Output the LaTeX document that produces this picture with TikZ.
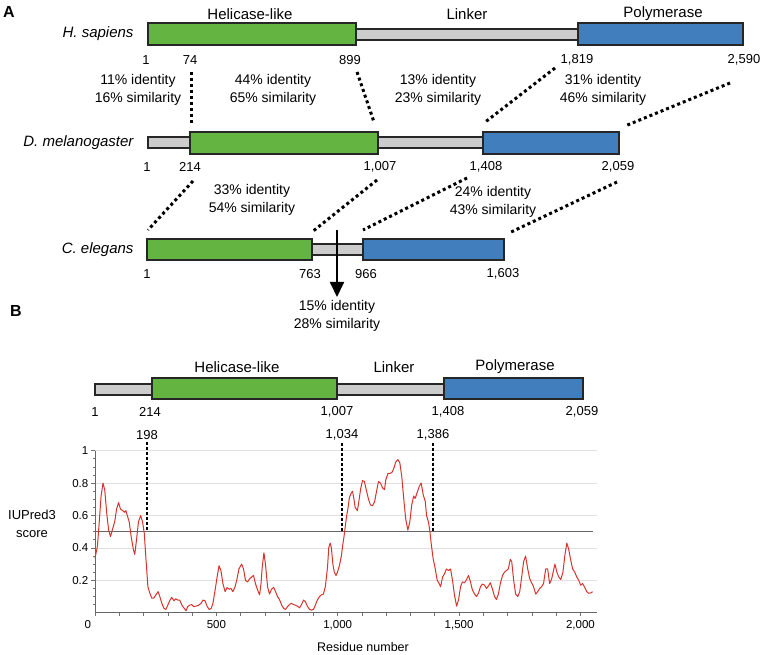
\documentclass[tikz,border=0pt]{standalone}
\usepackage{fontspec}
\setmainfont{Liberation Sans}
\usepackage{tikz}
\usepackage{xcolor}
\usetikzlibrary{arrows.meta}

\definecolor{helgreen}{RGB}{100,180,66}
\definecolor{polblue}{RGB}{64,126,190}
\definecolor{linkgray}{RGB}{204,204,204}
\definecolor{iured}{RGB}{214,52,44}

\tikzset{
  barbox/.style={draw=black!85, line width=1.3pt},
  helbox/.style={barbox, fill=helgreen},
  polbox/.style={barbox, fill=polblue},
  linkbar/.style={barbox, fill=linkgray},
  dlabel/.style={font=\fontsize{15}{18}\selectfont},
  species/.style={anchor=east, font=\itshape\fontsize{15}{18}\selectfont},
  num/.style={inner sep=2pt, font=\fontsize{13}{15}\selectfont},
  idtext/.style={align=center, font=\fontsize{14}{18}\selectfont},
  aligndash/.style={line width=3pt, dash pattern=on 3pt off 3pt},
  markdash/.style={line width=2pt, dash pattern=on 3pt off 2pt},
  panel/.style={font=\bfseries\fontsize{16}{16}\selectfont}
}

\begin{document}
\begin{tikzpicture}[x=1pt, y=-1pt]
  \useasboundingbox (0,0) rectangle (761,655);

  % panel A
  \node[panel] (pa) at (9,12) {A};
  \node[dlabel] (hel1) at (250,14) {Helicase-like};
  \node[dlabel] (lnk1) at (467,14) {Linker};
  \node[dlabel] (pol1) at (663,14) {Polymerase};

  % H. sapiens
  \node[species] (hs) at (137,34) {H. sapiens};
  \draw[linkbar] (356,29) rectangle (578,40);
  \draw[helbox] (148,23) rectangle (356,45);
  \draw[polbox] (578,23) rectangle (743,45);
  \node[num] (hs1) at (146,60) {1};
  \node[num] (hs74) at (190,60) {74};
  \node[num] (hs899) at (350,60) {899};
  \node[num] (hs1819) at (577,60) {1,819};
  \node[num] (hs2590) at (744,60) {2,590};

  % D. melanogaster
  \node[species] (dm) at (137,143) {D. melanogaster};
  \draw[linkbar] (148,137) rectangle (483,148);
  \draw[helbox] (190,132) rectangle (378,154);
  \draw[polbox] (483,132) rectangle (619,154);
  \node[num] (dm1) at (147,167) {1};
  \node[num] (dm214) at (190,167) {214};
  \node[num] (dm1007) at (380,167) {1,007};
  \node[num] (dm1408) at (486,167) {1,408};
  \node[num] (dm2059) at (618,167) {2,059};

  % C. elegans
  \node[species] (ce) at (137,250) {C. elegans};
  \draw[linkbar] (312,244) rectangle (363,255);
  \draw[helbox] (147,239) rectangle (312,260);
  \draw[polbox] (363,239) rectangle (504,260);
  \node[num] (ce1) at (147,274) {1};
  \node[num] (ce763) at (310,274) {763};
  \node[num] (ce966) at (366,274) {966};
  \node[num] (ce1603) at (503,274) {1,603};

  % identity between rows
  \node[idtext] (id1) at (138,90) {11\% identity\\16\% similarity};
  \node[idtext] (id2) at (273,90) {44\% identity\\65\% similarity};
  \node[idtext] (id3) at (438,90) {13\% identity\\23\% similarity};
  \node[idtext] (id4) at (603,90) {31\% identity\\46\% similarity};
  \node[idtext] (id5) at (252,200) {33\% identity\\54\% similarity};
  \node[idtext] (id6) at (493,202) {24\% identity\\43\% similarity};

  \coordinate (u1) at (191,72);  \coordinate (v1) at (191,125);
  \coordinate (u2) at (357,72);  \coordinate (v2) at (374,122);
  \coordinate (u3) at (555,68);  \coordinate (v3) at (484,123);
  \coordinate (u4) at (730,83);  \coordinate (v4) at (625,126);
  \coordinate (u5) at (193,181); \coordinate (v5) at (148,230);
  \coordinate (u6) at (377,180); \coordinate (v6) at (312,232);
  \coordinate (u7) at (467,178); \coordinate (v7) at (363,230);
  \coordinate (u8) at (617,182); \coordinate (v8) at (509,233);
  \foreach \i in {1,...,8}
    \draw[aligndash] (u\i) -- (v\i);

  % linker arrow
  \coordinate (arrtop) at (337,230);
  \node[idtext, anchor=north] (id7) at (337,297) {15\% identity\\28\% similarity};
  \draw[line width=1.8pt, -{Triangle[width=14pt,length=15pt]}] (arrtop) -- (id7.north);

  % panel B
  \node[panel] (pb) at (16,311) {B};
  \node[dlabel] (hel2) at (237,367) {Helicase-like};
  \node[dlabel] (lnk2) at (394,367) {Linker};
  \node[dlabel] (pol2) at (515,367) {Polymerase};
  \draw[linkbar] (95,384) rectangle (444,395);
  \draw[helbox] (152,378) rectangle (337,399);
  \draw[polbox] (444,378) rectangle (583,399);
  \node[num] (b1) at (95,412) {1};
  \node[num] (b214) at (150,412) {214};
  \node[num] (b1007) at (337,412) {1,007};
  \node[num] (b1408) at (448,412) {1,408};
  \node[num] (b2059) at (582,412) {2,059};

  % IUPred3 plot
  \node[align=center, font=\fontsize{13}{18}\selectfont] (ylab) at (32,524) {IUPred3\\score};
  \node[font=\fontsize{12.5}{14}\selectfont] (xlab) at (363,647) {Residue number};
  \begin{scope}[shift={(95,612.7)}, x=0.2427pt, y=162pt]
    \foreach \g in {0.2,0.4,0.6,0.8,1}
      \draw[black!12, line width=0.8pt] (0,\g) -- (2070,\g);
    \foreach \g in {0.05,0.1,...,1.0}
      \draw[black!55, line width=0.6pt] (0,\g) -- ++(-2.5pt,0pt);
    \foreach \g in {0.2,0.4,0.6,0.8,1}
      \draw[black!55, line width=0.6pt] (0,\g) -- ++(-4pt,0pt);
    \foreach \g/\t in {0.2/0.2,0.4/0.4,0.6/0.6,0.8/0.8,1/1}
      \node[anchor=east, inner sep=0pt, font=\fontsize{11.5}{13}\selectfont] (yt\t) at (-27,\g) {\t};
    \foreach \t in {0,100,...,2000}
      \draw[black!55, line width=0.6pt] (\t,0) -- ++(0pt,-3pt);
    \draw[black!60, line width=0.8pt] (0,0) -- (0,1);
    \draw[black!60, line width=0.8pt] (0,0) -- (2070,0);
    \node[font=\fontsize{11.5}{13}\selectfont] (x0) at (-30,-0.076) {0};
    \foreach \t/\s in {500/500,1000/{1,000},1500/{1,500},2000/{2,000}}
      \node[font=\fontsize{11.5}{13}\selectfont] (xt\t) at (\t,-0.076) {\s};
    \draw[black!60, line width=1.3pt] (0,0.5) -- (2052,0.5);
    \draw[iured, line width=1pt, line join=round] plot coordinates {
      (0,0.335) (10,0.41) (18,0.57) (25,0.72) (33,0.80) (40,0.76) (48,0.62) (56,0.51)
      (64,0.47) (73,0.52) (81,0.56) (89,0.64) (97,0.68) (105,0.64) (114,0.63) (122,0.62)
      (127,0.63) (133,0.60) (141,0.56) (149,0.47) (158,0.39) (164,0.36) (171,0.45)
      (179,0.56) (188,0.60) (196,0.56) (203,0.49) (210,0.33) (218,0.16) (226,0.12)
      (234,0.09) (242,0.09) (251,0.11) (260,0.13) (267,0.10) (275,0.06) (284,0.027)
      (292,0.02) (300,0.047) (308,0.074) (316,0.095) (325,0.074) (333,0.086) (341,0.078)
      (349,0.078) (358,0.047) (366,0.03) (375,0.012) (382,0.037) (390,0.047) (399,0.05)
      (407,0.037) (415,0.04) (426,0.045) (437,0.058) (445,0.078) (453,0.074) (462,0.04)
      (470,0.02) (479,0.027) (486,0.058) (495,0.14) (503,0.22) (511,0.29) (519,0.26)
      (527,0.18) (536,0.13) (544,0.155) (553,0.145) (560,0.15) (568,0.13) (577,0.16)
      (584,0.20) (593,0.27) (604,0.30) (612,0.27) (620,0.20) (629,0.19) (637,0.21)
      (645,0.22) (653,0.23) (661,0.18) (670,0.14) (678,0.11) (684,0.18) (689,0.28)
      (696,0.37) (703,0.29) (711,0.16) (719,0.115) (727,0.144) (736,0.156) (744,0.13)
      (752,0.10) (760,0.082) (769,0.047) (777,0.027) (785,0.02) (793,0.037) (801,0.05)
      (809,0.058) (818,0.05) (826,0.047) (834,0.04) (843,0.03) (851,0.05) (859,0.078)
      (867,0.068) (875,0.04) (884,0.02) (892,0.016) (900,0.02) (908,0.047) (916,0.078)
      (925,0.10) (933,0.11) (941,0.115) (949,0.16) (958,0.28) (963,0.40) (969,0.43)
      (974,0.40) (980,0.30) (986,0.25) (993,0.23) (999,0.25) (1007,0.29) (1015,0.35)
      (1020,0.41) (1026,0.47) (1031,0.53) (1037,0.60) (1042,0.64) (1048,0.71) (1056,0.74)
      (1061,0.75) (1067,0.70) (1072,0.65) (1081,0.63) (1086,0.675) (1094,0.76) (1102,0.815)
      (1110,0.81) (1119,0.75) (1127,0.70) (1135,0.665) (1143,0.66) (1152,0.685) (1160,0.75)
      (1168,0.81) (1176,0.80) (1185,0.77) (1193,0.76) (1198,0.82) (1207,0.86) (1215,0.86)
      (1223,0.865) (1231,0.89) (1239,0.93) (1248,0.945) (1256,0.925) (1264,0.84) (1272,0.705)
      (1280,0.58) (1289,0.51) (1297,0.56) (1305,0.665) (1313,0.72) (1319,0.705) (1327,0.74)
      (1336,0.78) (1344,0.80) (1352,0.73) (1361,0.685) (1366,0.60) (1374,0.56) (1380,0.50)
      (1385,0.43) (1393,0.335) (1402,0.27) (1410,0.20) (1418,0.18) (1424,0.16) (1432,0.22)
      (1440,0.24) (1448,0.27) (1457,0.26) (1465,0.27) (1473,0.20) (1481,0.11) (1490,0.04)
      (1498,0.08) (1506,0.16) (1514,0.19) (1523,0.185) (1531,0.205) (1539,0.23) (1547,0.19)
      (1555,0.14) (1564,0.115) (1572,0.10) (1580,0.12) (1588,0.16) (1596,0.177) (1605,0.17)
      (1613,0.15) (1621,0.165) (1629,0.185) (1638,0.144) (1646,0.10) (1654,0.082) (1662,0.115)
      (1670,0.18) (1679,0.23) (1687,0.25) (1695,0.26) (1703,0.27) (1711,0.33) (1717,0.315)
      (1725,0.20) (1733,0.115) (1742,0.10) (1750,0.13) (1758,0.22) (1766,0.315) (1774,0.35)
      (1783,0.27) (1791,0.21) (1799,0.185) (1807,0.16) (1816,0.115) (1824,0.13) (1832,0.15)
      (1840,0.16) (1848,0.18) (1857,0.27) (1865,0.27) (1873,0.18) (1881,0.205) (1889,0.26)
      (1895,0.30) (1903,0.25) (1911,0.22) (1919,0.205) (1928,0.25) (1936,0.355) (1944,0.43)
      (1952,0.39) (1960,0.325) (1968,0.27) (1977,0.25) (1985,0.22) (1993,0.20) (2001,0.17)
      (2009,0.18) (2018,0.156) (2026,0.13) (2034,0.12) (2045,0.123) (2050,0.13)};
  \end{scope}

  % boundary markers
  \node[num] (m198) at (147,435) {198};
  \node[num] (m1034) at (342,435) {1,034};
  \node[num] (m1386) at (433,435) {1,386};
  \coordinate (c198) at (147,531.7);
  \coordinate (c1034) at (342,531.7);
  \coordinate (c1386) at (433,531.7);
  \draw[markdash] (m198) -- (c198);
  \draw[markdash] (m1034) -- (c1034);
  \draw[markdash] (m1386) -- (c1386);
\end{tikzpicture}
\end{document}
